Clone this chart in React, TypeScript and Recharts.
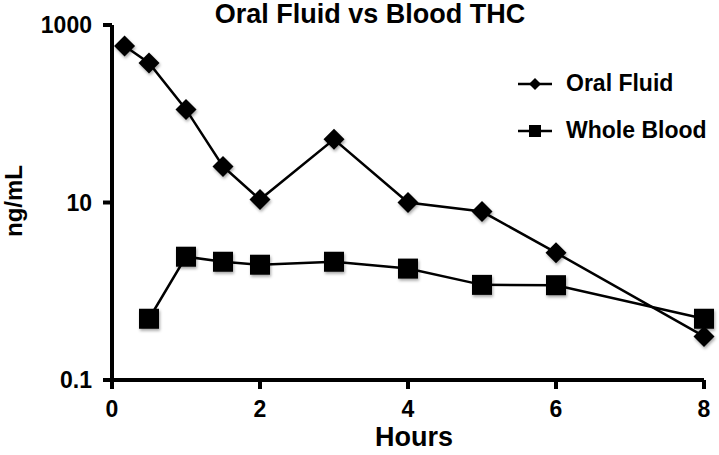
import React from 'react';
import { LineChart, Line, XAxis, YAxis } from 'recharts';

const oralHours = [0.17, 0.5, 1, 1.5, 2, 3, 4, 5, 6, 8];
const oralValues = [580, 373, 112, 25.5, 10.8, 51.5, 10, 7.9, 2.72, 0.31];
const bloodHours = [0.5, 1, 1.5, 2, 3, 4, 5, 6, 8];
const bloodValues = [0.49, 2.45, 2.15, 1.99, 2.15, 1.8, 1.18, 1.17, 0.49];
const xTicks = [0, 2, 4, 6, 8];
const yTicks = [0.1, 10, 1000];
const seriesNames = ['Oral Fluid', 'Whole Blood'];

const oralData = oralHours.map((x, i) => ({ x, y: oralValues[i] }));
const bloodData = bloodHours.map((x, i) => ({ x, y: bloodValues[i] }));

const FONT = '"Liberation Sans", Arial, Helvetica, sans-serif';
const shadow = { filter: 'drop-shadow(1px 2px 1.5px rgba(0,0,0,0.35))' };
const tickStyle = { fill: '#000', fontFamily: FONT, fontWeight: 'bold', fontSize: 23 };
const axisLine = { stroke: '#000', strokeWidth: 4 };
const tickLine = { stroke: '#000', strokeWidth: 4 };

const Diamond = (props: any) => {
  const { cx, cy, key } = props;
  if (cx == null || cy == null) return null;
  const r = 10.5;
  return (
    <path
      key={key}
      d={`M${cx},${cy - r} L${cx + r},${cy} L${cx},${cy + r} L${cx - r},${cy} Z`}
      fill="#000"
      style={shadow}
    />
  );
};

const Square = (props: any) => {
  const { cx, cy, key } = props;
  if (cx == null || cy == null) return null;
  const s = 10;
  return <rect key={key} x={cx - s} y={cy - s} width={s * 2} height={s * 2} fill="#000" style={shadow} />;
};

const LegendBox = () => (
  <div style={{ position: 'absolute', top: 60, left: 514 }}>
    {seriesNames.map((name, i) => (
      <div key={name} style={{ display: 'flex', alignItems: 'center', height: 47 }}>
        <svg width={48} height={20}>
          <line x1={4} y1={10} x2={38} y2={10} stroke="#000" strokeWidth={2.5} />
          {i === 0 ? (
            <path d="M21,4 L27,10 L21,16 L15,10 Z" fill="#000" />
          ) : (
            <rect x={15} y={4} width={12} height={12} fill="#000" />
          )}
        </svg>
        <span style={{ fontFamily: FONT, fontWeight: 'bold', fontSize: 23, marginLeft: 4 }}>{name}</span>
      </div>
    ))}
  </div>
);

const App = () => {
  return (
    <div style={{ position: 'absolute', left: 0, top: 0, width: 719, height: 455, background: '#fff' }}>
      <LineChart width={719} height={455} margin={{ top: 25, right: 15, bottom: 0, left: 0 }}>
        <XAxis
          type="number"
          dataKey="x"
          domain={[0, 8]}
          ticks={xTicks}
          allowDuplicatedCategory={false}
          height={75}
          axisLine={axisLine}
          tickLine={tickLine}
          tickSize={9}
          tickMargin={12}
          tick={tickStyle}
        />
        <YAxis
          type="number"
          dataKey="y"
          scale="log"
          domain={[0.1, 1000]}
          allowDataOverflow
          ticks={yTicks}
          tickFormatter={(v: number) => String(v)}
          width={112}
          axisLine={axisLine}
          tickLine={tickLine}
          tickSize={9}
          tickMargin={11}
          tick={tickStyle}
        />
        <Line
          data={oralData}
          dataKey="y"
          name={seriesNames[0]}
          stroke="#000"
          strokeWidth={2.5}
          dot={Diamond}
          isAnimationActive={false}
        />
        <Line
          data={bloodData}
          dataKey="y"
          name={seriesNames[1]}
          stroke="#000"
          strokeWidth={2.5}
          dot={Square}
          isAnimationActive={false}
        />
      </LineChart>
      <LegendBox />
      <div
        style={{
          position: 'absolute',
          top: 0,
          left: 170,
          width: 400,
          textAlign: 'center',
          fontFamily: FONT,
          fontWeight: 'bold',
          fontSize: 27,
          lineHeight: '28px',
        }}
      >
        Oral Fluid vs Blood THC
      </div>
      <div
        style={{
          position: 'absolute',
          top: 422,
          left: 314,
          width: 200,
          textAlign: 'center',
          fontFamily: FONT,
          fontWeight: 'bold',
          fontSize: 27,
          lineHeight: '30px',
        }}
      >
        Hours
      </div>
      <div
        style={{
          position: 'absolute',
          top: 186,
          left: -36,
          width: 100,
          textAlign: 'center',
          fontFamily: FONT,
          fontWeight: 'bold',
          fontSize: 24,
          lineHeight: '30px',
          transform: 'rotate(-90deg)',
        }}
      >
        ng/mL
      </div>
    </div>
  );
};

export default App;
